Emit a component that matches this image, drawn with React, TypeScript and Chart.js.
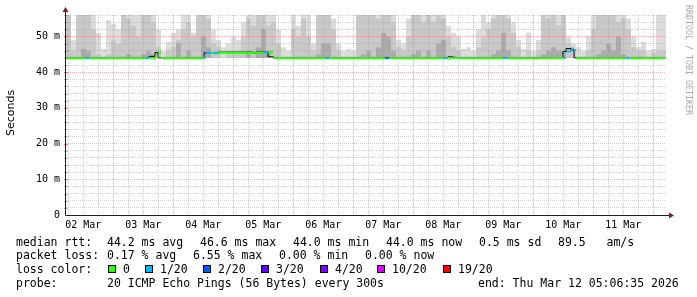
import React, { useEffect, useRef } from "react";
import { Chart, registerables } from "chart.js";

Chart.register(...registerables);

// ---------- data ----------
const startHourOfDay = 5 + 6 / 60 + 35 / 3600; // graph starts 02 Mar 05:06:35
const totalHours = 240;
const dayLabels = ["02 Mar", "03 Mar", "04 Mar", "05 Mar", "06 Mar", "07 Mar", "08 Mar", "09 Mar", "10 Mar", "11 Mar"];
const yMax = 56;
const yLabelEvery = 10;
const yGridStep = 2;
const smokeBase = 44;
const bucketHours = 2;

// smoke layers (ms), one value per 2-hour bucket
const smokeHi = [
  56, 56, 49, 56, 56, 56, 56, 51, 46.5, 54.5, 53.5, 52, 56, 56, 56, 56, 56, 56, 56, 52,
  46, 48.5, 51, 52, 56, 56, 51, 56, 56, 56, 52, 49, 47, 48, 50, 49, 54, 56, 56, 56,
  56, 56, 56, 52, 47, 46, 56, 53, 56, 56, 48, 56, 56, 56, 55, 48, 46, 46.5, 46, 56,
  56, 56, 56, 56, 56, 56, 56, 49, 48, 55, 56, 56, 56, 56, 56, 56, 56, 53, 51, 50,
  46.5, 47, 46, 52, 56, 54, 56, 56, 56, 56, 54, 49, 46.5, 51, 46, 49, 56, 56, 56, 56,
  56, 50, 48, 47, 46, 50, 56, 56, 56, 56, 56, 56, 56, 55, 50, 47, 48.5, 46, 46.5, 56,
];
const smokeMid = [
  56, 56, 46, 56, 56, 56, 52, 45, 44, 45, 49, 48, 56, 55, 53, 50, 56, 56, 54, 47,
  44, 46, 47, 49, 52, 54, 50, 56, 56, 55, 48, 47, 44, 46, 46, 46, 50, 55, 53, 56,
  56, 53, 54, 48, 44, 44, 52, 50, 55, 50, 46, 56, 56, 56, 52, 46, 44, 44, 44, 56,
  56, 56, 56, 55, 56, 56, 54, 47, 46, 50, 56, 56, 54, 56, 54, 56, 55, 50, 47, 46,
  44, 44, 44, 47, 50, 52, 55, 56, 56, 55, 51, 47, 44, 46, 44, 46, 56, 55, 56, 53,
  56, 48, 46, 44, 44, 46, 52, 56, 56, 56, 56, 54, 55, 52, 47, 46, 46, 44, 45.5, 46,
];
const smokeDark = [
  44, 44, 44, 44, 46.5, 46, 44, 44, 44, 44, 44, 44, 44, 45, 44, 44, 45, 46, 45, 44,
  44, 44, 44, 48, 44, 46, 44, 44, 50, 47, 44, 44, 44, 44, 44, 44, 44, 46, 44, 47,
  52, 46, 44, 44, 44, 44, 44, 44, 44, 44, 44, 45, 48, 48, 44, 44, 44, 44, 44, 44,
  45, 46, 44, 47, 51, 50, 46, 44, 44, 44, 45, 46, 44, 46, 44, 48, 49, 44, 44, 44,
  44, 44, 44, 44, 44, 44, 45, 46, 51, 46, 44, 44, 44, 44, 44, 44, 45, 46, 47, 46,
  46, 44, 44, 44, 44, 44, 44, 45, 46, 48, 46, 50, 45, 44, 44, 44, 44, 44, 44, 44,
];

// median rtt steps: start hour, value (ms), loss class index
const medianStart = [
  0, 7.6, 9.2, 32.0, 33.2, 35.6, 36.8, 38.0, 55.2, 56.0, 58.0, 59.2, 60.8, 74.8, 76.0, 78.8, 80.8, 82.8,
  83.6, 103.6, 105.2, 127.6, 129.2, 150.8, 152.8, 154.8, 156.0, 174.8, 176.8, 198.8, 200.0, 202.0, 203.2,
  204.0, 224.0, 225.2,
];
const medianValue = [
  44.0, 44.0, 44.0, 44.0, 44.0, 44.4, 45.5, 44.0, 44.0, 45.4, 45.4, 45.4, 45.4, 45.6, 45.4, 45.6, 45.7, 44.3,
  44.0, 44.0, 44.0, 44.0, 44.0, 44.0, 44.0, 44.3, 44.0, 44.0, 44.0, 44.0, 45.8, 46.6, 46.2,
  44.0, 44.0, 44.0,
];
const medianLoss = [
  0, 1, 0, 1, 0, 0, 0, 0, 1, 1, 0, 1, 0, 0, 0, 1, 0, 0,
  0, 1, 0, 2, 0, 1, 0, 0, 0, 1, 0, 1, 1, 1, 1,
  0, 1, 0,
];

const lossLabels = ["0", "1/20", "2/20", "3/20", "4/20", "10/20", "19/20"];
const lossColors = ["#26ff00", "#00b8ff", "#0059ff", "#5e00ff", "#7e00ff", "#dd00ff", "#ff0000"];

const rttStats = ["44.2 ms avg", "46.6 ms max", "44.0 ms min", "44.0 ms now", "0.5 ms sd", "89.5   am/s"];
const lossStats = ["0.17 % avg", "6.55 % max", "0.00 % min", "0.00 % now"];
const probeText = "20 ICMP Echo Pings (56 Bytes) every 300s";
const endText = "end: Thu Mar 12 05:06:35 2026";
const yTitle = "Seconds";
const watermark = "RRDTOOL / TOBI OETIKER";

// ---------- helpers ----------
const MONO = '"DejaVu Sans Mono", monospace';
const GRID_MINOR = "rgba(140,140,140,0.38)";
const GRID_MAJOR = "rgba(220,90,90,0.45)";

function smokePoints(arr: number[]) {
  const pts = arr.map((v, i) => ({ x: i * bucketHours, y: v }));
  pts.push({ x: totalHours, y: arr[arr.length - 1] });
  return pts;
}

function medianStepPoints() {
  const pts = medianStart.map((s, i) => ({ x: s, y: medianValue[i] }));
  pts.push({ x: totalHours, y: medianValue[medianValue.length - 1] });
  return pts;
}

function medianSegPoints() {
  const pts: { x: number; y: number | null }[] = [];
  medianStart.forEach((s, i) => {
    const e = i + 1 < medianStart.length ? medianStart[i + 1] : totalHours;
    pts.push({ x: s, y: medianValue[i] }, { x: e, y: medianValue[i] }, { x: e, y: null });
  });
  return pts;
}

const hourOfDay = (h: number) => Math.round(h + startHourOfDay) % 24;

const overlayPlugin = {
  id: "overlay",
  afterDraw(chart: any) {
    const ctx = chart.ctx as CanvasRenderingContext2D;
    const area = chart.chartArea;
    const ys = chart.scales.y;
    ctx.save();
    // small tick marks on the y axis
    ys.ticks.forEach((t: any) => {
      if (t.value === 0) return;
      const py = Math.round(ys.getPixelForValue(t.value)) + 0.5;
      ctx.strokeStyle = t.value % yLabelEvery === 0 ? "rgba(200,60,60,0.7)" : "rgba(120,120,120,0.5)";
      ctx.beginPath();
      ctx.moveTo(area.left - 2, py);
      ctx.lineTo(area.left + 2, py);
      ctx.stroke();
    });
    // axes
    ctx.strokeStyle = "#1f1f1f";
    ctx.lineWidth = 1;
    ctx.beginPath();
    ctx.moveTo(area.left - 0.5, area.bottom + 0.5);
    ctx.lineTo(area.right + 4, area.bottom + 0.5);
    ctx.moveTo(area.left - 0.5, area.bottom + 0.5);
    ctx.lineTo(area.left - 0.5, area.top - 4);
    ctx.stroke();
    ctx.fillStyle = "#7f1f1f";
    ctx.beginPath();
    ctx.moveTo(area.right + 8, area.bottom + 0.5);
    ctx.lineTo(area.right + 3, area.bottom - 2.5);
    ctx.lineTo(area.right + 3, area.bottom + 3.5);
    ctx.closePath();
    ctx.fill();
    ctx.beginPath();
    ctx.moveTo(area.left - 0.5, area.top - 8);
    ctx.lineTo(area.left - 3.5, area.top - 3);
    ctx.lineTo(area.left + 2.5, area.top - 3);
    ctx.closePath();
    ctx.fill();

    // y title
    ctx.fillStyle = "#000";
    ctx.font = '11px "DejaVu Sans", sans-serif';
    ctx.textAlign = "center";
    ctx.textBaseline = "middle";
    ctx.save();
    ctx.translate(11, (area.top + area.bottom) / 2 - 2);
    ctx.rotate(-Math.PI / 2);
    ctx.fillText(yTitle, 0, 0);
    ctx.restore();

    // watermark
    ctx.save();
    ctx.fillStyle = "#a8a8a8";
    ctx.font = `8.3px ${MONO}`;
    ctx.textAlign = "left";
    ctx.textBaseline = "middle";
    ctx.translate(688, 5);
    ctx.rotate(Math.PI / 2);
    ctx.fillText(watermark, 0, 0);
    ctx.restore();

    // legend
    ctx.fillStyle = "#000";
    ctx.font = `11.5px ${MONO}`;
    ctx.textAlign = "left";
    ctx.textBaseline = "alphabetic";
    const r1 = 245.5, r2 = 259.2, r3 = 272.9, r4 = 286.6;
    ctx.fillText("median rtt:", 16, r1);
    const rttX = [107, 200, 293, 386, 479, 558];
    rttStats.forEach((t, i) => ctx.fillText(t, rttX[i], r1));
    ctx.fillText("packet loss:", 16, r2);
    const lossX = [107, 193, 279, 365];
    lossStats.forEach((t, i) => ctx.fillText(t, lossX[i], r2));
    ctx.fillText("loss color:", 16, r3);
    const swX = [108, 145, 203, 261, 320, 377, 443];
    lossLabels.forEach((t, i) => {
      ctx.fillStyle = lossColors[i];
      ctx.fillRect(swX[i], 265, 8, 8);
      ctx.strokeStyle = "#000";
      ctx.strokeRect(swX[i] + 0.5, 265.5, 7, 7);
      ctx.fillStyle = "#000";
      ctx.fillText(t, swX[i] + 15, r3);
    });
    ctx.fillText("probe:", 16, r4);
    ctx.fillText(probeText, 107, r4);
    ctx.fillText(endText, 478, r4);
    ctx.restore();
  },
};

export default function App() {
  const ref = useRef<HTMLCanvasElement>(null);
  useEffect(() => {
    const canvas = ref.current!;
    const smokeDs = (data: number[], color: string, order: number) => ({
      type: "line" as const,
      data: smokePoints(data),
      stepped: "after" as const,
      fill: { value: smokeBase },
      backgroundColor: color,
      borderColor: "rgba(0,0,0,0)",
      borderWidth: 0,
      pointRadius: 0,
      order,
    });
    const chart = new Chart(canvas, {
      type: "line",
      data: {
        datasets: [
          smokeDs(smokeDark, "#ababab", 3),
          smokeDs(smokeMid, "#c8c8c8", 4),
          smokeDs(smokeHi, "#dcdcdc", 5),
          {
            type: "line",
            data: medianStepPoints(),
            stepped: "after",
            fill: false,
            borderColor: "#000",
            borderWidth: 1,
            pointRadius: 0,
            order: 2,
          } as any,
          {
            type: "line",
            data: medianSegPoints(),
            fill: false,
            spanGaps: false,
            borderWidth: 2,
            borderCapStyle: "butt",
            pointRadius: 0,
            borderColor: lossColors[0],
            segment: {
              borderColor: (c: any) => lossColors[medianLoss[Math.floor(c.p0DataIndex / 3)]],
            },
            order: 1,
          } as any,
        ],
      },
      options: {
        responsive: false,
        animation: false,
        devicePixelRatio: 1,
        events: [],
        layout: { padding: { left: 0, right: 31, top: 15, bottom: 62 } },
        plugins: { legend: { display: false }, tooltip: { enabled: false } },
        scales: {
          x: {
            type: "linear",
            min: 0,
            max: totalHours,
            afterBuildTicks: (scale: any) => {
              const t = [];
              for (let h = 6 - startHourOfDay; h < totalHours; h += 6) t.push({ value: h });
              scale.ticks = t;
            },
            afterFit: (scale: any) => {
              scale.height = 20;
            },
            ticks: {
              autoSkip: false,
              maxRotation: 0,
              minRotation: 0,
              padding: 4,
              color: "#000",
              font: { family: MONO, size: 10 },
              callback: (v: any) => {
                const h = Number(v);
                if (hourOfDay(h) !== 12) return "";
                return dayLabels[Math.floor((h + startHourOfDay) / 24)] ?? "";
              },
            },
            grid: {
              z: 1,
              drawTicks: false,
              lineWidth: 1,
              color: (c: any) => (c.tick && hourOfDay(c.tick.value) === 0 ? GRID_MAJOR : GRID_MINOR),
            },
            border: { display: false, dash: [1, 1] },
          },
          y: {
            type: "linear",
            min: 0,
            max: yMax,
            afterBuildTicks: (scale: any) => {
              const t = [];
              for (let v = 0; v <= yMax; v += yGridStep) t.push({ value: v });
              scale.ticks = t;
            },
            afterFit: (scale: any) => {
              scale.width = 66;
            },
            ticks: {
              autoSkip: false,
              padding: 6,
              color: "#000",
              font: { family: MONO, size: 10 },
              callback: (v: any) => {
                const n = Number(v);
                if (n % yLabelEvery !== 0) return "";
                return n === 0 ? "0" : `${n} m`;
              },
            },
            grid: {
              z: 1,
              drawTicks: false,
              lineWidth: 1,
              color: (c: any) => {
                const v = c.tick ? c.tick.value : 1;
                if (v === 0) return "rgba(0,0,0,0)";
                return v % yLabelEvery === 0 ? GRID_MAJOR : GRID_MINOR;
              },
            },
            border: { display: false, dash: [1, 1] },
          },
        },
      },
      plugins: [overlayPlugin],
    } as any);
    return () => chart.destroy();
  }, []);
  return (
    <div style={{ position: "fixed", left: 0, top: 0, width: 697, height: 297, background: "#fff" }}>
      <canvas ref={ref} width={697} height={297} style={{ display: "block", width: 697, height: 297 }} />
    </div>
  );
}
